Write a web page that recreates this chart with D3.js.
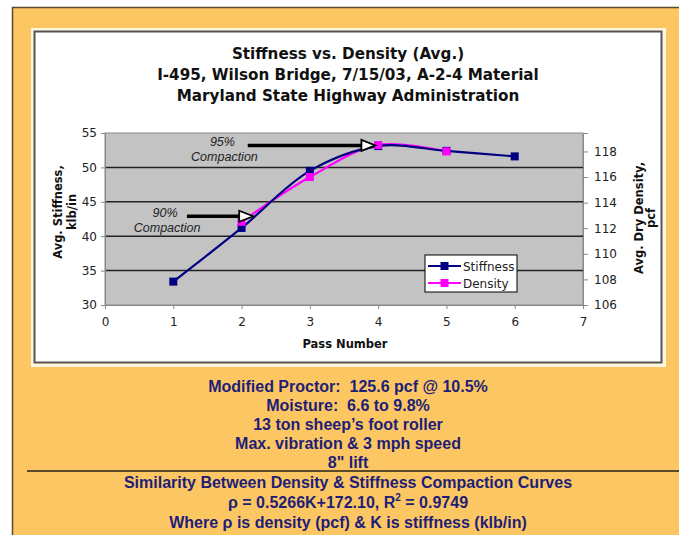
<!DOCTYPE html>
<html><head><meta charset="utf-8">
<script src="https://cdn.jsdelivr.net/npm/d3@7"></script>
<style>body{margin:0;background:#fff}svg{display:block}text{white-space:pre}</style>
</head><body>
<script>
const passes = [1, 2, 3, 4, 5, 6];
const stiffness = [33.4, 41.2, 49.5, 53.1, 52.4, 51.6];
const densityPasses = [2, 3, 4, 5];
const density = [112.5, 116.0, 118.5, 118.0];
const xTicks = [0, 1, 2, 3, 4, 5, 6, 7];
const yLeftTicks = [30, 35, 40, 45, 50, 55];
const yRightTicks = [106, 108, 110, 112, 114, 116, 118];
const titleLines = ["Stiffness vs. Density (Avg.)", "I-495, Wilson Bridge, 7/15/03, A-2-4 Material", "Maryland State Highway Administration"];
const notesTop = ["Modified Proctor:  125.6 pcf @ 10.5%", "Moisture:  6.6 to 9.8%", "13 ton sheep\u2019s foot roller", "Max. vibration & 3 mph speed", "8\" lift"];
const notesBottom = ["Similarity Between Density & Stiffness Compaction Curves", "EQ", "Where \u03c1 is density (pcf) & K is stiffness (klb/in)"];
const annotations = [{label: "95%", x0: 2.09, x1: 3.96, y: 53.2, tx: 1.72}, {label: "90%", x0: 1.2, x1: 2.17, y: 42.9, tx: 0.88}];

const W = 679, H = 535;
const svg = d3.select("body").append("svg").attr("width", W).attr("height", H);

// orange panel
svg.append("rect").attr("x", 12).attr("y", 7).attr("width", W - 12).attr("height", H - 7).attr("fill", "#fcc763");
svg.append("path").attr("d", `M12.5,${H} V7.5 H${W}`).attr("fill", "none").attr("stroke", "#5c4a2c").attr("stroke-width", 1.5);
// inner white box with glow
svg.append("rect").attr("x", 31).attr("y", 28).attr("width", 635).attr("height", 339).attr("fill", "#fff6e0");
svg.append("rect").attr("x", 34.5).attr("y", 31.5).attr("width", 627).attr("height", 331).attr("fill", "#fff").attr("stroke", "#555").attr("stroke-width", 2);

// titles
svg.append("g").selectAll("text").data(titleLines).join("text")
  .attr("x", 348).attr("y", (d, i) => 59 + i * 21).attr("text-anchor", "middle")
  .attr("font-family", "DejaVu Sans").attr("font-weight", "bold").attr("font-size", 15.2).attr("fill", "#111").text(d => d);

const pL = 105, pR = 583, pT = 133, pB = 305;
const x = d3.scaleLinear().domain([0, 7]).range([pL, pR]);
const yL = d3.scaleLinear().domain([30, 55]).range([pB, pT]);
const yR = d3.scaleLinear().domain([106, 119.44]).range([pB, pT]);

svg.append("rect").attr("x", pL).attr("y", pT).attr("width", pR - pL).attr("height", pB - pT).attr("fill", "#c3c3c3").attr("stroke", "#8a8a8a").attr("stroke-width", 1);
svg.append("g").selectAll("line").data(yLeftTicks.slice(1, -1)).join("line")
  .attr("x1", pL).attr("x2", pR).attr("y1", d => yL(d)).attr("y2", d => yL(d)).attr("stroke", "#222").attr("stroke-width", 1.5);

const tickFont = g => g.selectAll("text").attr("font-family", "DejaVu Sans").attr("font-size", 12).attr("fill", "#222");
const axStyle = g => { g.select(".domain").attr("stroke", "#888"); g.selectAll(".tick line").attr("stroke", "#888"); };
svg.append("g").attr("transform", `translate(0,${pB})`).call(d3.axisBottom(x).tickValues(xTicks).tickFormat(d3.format("d")).tickSize(4).tickPadding(8)).call(tickFont).call(axStyle);
svg.append("g").attr("transform", `translate(${pL},0)`).call(d3.axisLeft(yL).tickValues(yLeftTicks).tickFormat(d3.format("d")).tickSize(4).tickPadding(4)).call(tickFont).call(axStyle);
svg.append("g").attr("transform", `translate(${pR},0)`).call(d3.axisRight(yR).tickValues(yRightTicks).tickFormat(d3.format("d")).tickSize(5).tickPadding(6)).call(tickFont).call(axStyle);

const axTitle = {"font-family": "DejaVu Sans", "font-weight": "bold", "font-size": 11.5, "fill": "#111"};
const at = (sel, o) => { for (const k in o) sel.attr(k, o[k]); return sel; };
at(svg.append("text"), axTitle).attr("x", 345).attr("y", 348).attr("text-anchor", "middle").text("Pass Number");
const lt = at(svg.append("text"), axTitle).attr("transform", "translate(62,212) rotate(-90)").attr("text-anchor", "middle");
lt.append("tspan").attr("x", 0).attr("dy", 0).text("Avg. Stiffness,");
lt.append("tspan").attr("x", 0).attr("dy", 14).text("klb/in");
const rt = at(svg.append("text"), axTitle).attr("transform", "translate(643,218) rotate(-90)").attr("text-anchor", "middle");
rt.append("tspan").attr("x", 0).attr("dy", 0).text("Avg. Dry Density,");
rt.append("tspan").attr("x", 0).attr("dy", 12).text("pcf");

// series
const curve = d3.curveCatmullRom.alpha(0.5);
const sData = passes.map((p, i) => [p, stiffness[i]]);
const dData = densityPasses.map((p, i) => [p, density[i]]);
svg.append("path").datum(dData).attr("fill", "none").attr("stroke", "#ff00ff").attr("stroke-width", 2.2)
  .attr("d", d3.line().x(d => x(d[0])).y(d => yR(d[1])).curve(curve));
svg.append("path").datum(sData).attr("fill", "none").attr("stroke", "#000080").attr("stroke-width", 2.2)
  .attr("d", d3.line().x(d => x(d[0])).y(d => yL(d[1])).curve(curve));
const ms = 8;
svg.append("g").selectAll("rect").data(sData).join("rect")
  .attr("x", d => x(d[0]) - ms / 2).attr("y", d => yL(d[1]) - ms / 2).attr("width", ms).attr("height", ms).attr("fill", "#000080");
svg.append("g").selectAll("rect").data(dData).join("rect")
  .attr("x", d => x(d[0]) - ms / 2).attr("y", d => yR(d[1]) - ms / 2).attr("width", ms).attr("height", ms).attr("fill", "#ff00ff");

// annotations
annotations.forEach(a => {
  const xt = x(a.x1), yy = yL(a.y);
  svg.append("line").attr("x1", x(a.x0)).attr("x2", xt - 12).attr("y1", yy).attr("y2", yy).attr("stroke", "#000").attr("stroke-width", 3.5);
  svg.append("path").attr("d", `M${xt - 14},${yy - 5.5} L${xt},${yy} L${xt - 14},${yy + 5.5} Z`).attr("fill", "#fff").attr("stroke", "#000").attr("stroke-width", 1.8);
  const t = svg.append("text").attr("font-family", "Liberation Sans").attr("font-style", "italic").attr("font-size", 12.5).attr("fill", "#222").attr("text-anchor", "middle");
  t.append("tspan").attr("x", x(a.tx)).attr("y", yy + 1).text(a.label);
  t.append("tspan").attr("x", x(a.tx) + 2).attr("y", yy + 16).text("Compaction");
});

// legend
const lg = svg.append("g").attr("transform", "translate(425,255)");
lg.append("rect").attr("width", 92).attr("height", 37).attr("fill", "#fff").attr("stroke", "#000").attr("stroke-width", 1);
[["Stiffness", "#000080"], ["Density", "#ff00ff"]].forEach((e, i) => {
  const yy = 11 + i * 17;
  lg.append("line").attr("x1", 3).attr("x2", 36).attr("y1", yy).attr("y2", yy).attr("stroke", e[1]).attr("stroke-width", 2.2);
  lg.append("rect").attr("x", 15.5).attr("y", yy - 4).attr("width", 8).attr("height", 8).attr("fill", e[1]);
  lg.append("text").attr("x", 38).attr("y", yy + 4.5).attr("font-family", "DejaVu Sans").attr("font-size", 12).attr("fill", "#222").text(e[0]);
});

// notes
const noteStyle = {"font-family": "Liberation Sans", "font-weight": "bold", "font-size": 16, "fill": "#1e1e78", "text-anchor": "middle"};
notesTop.forEach((s, i) => at(svg.append("text"), noteStyle).attr("x", 348).attr("y", 392 + i * 19).text(s));
svg.append("line").attr("x1", 27).attr("x2", W).attr("y1", 471).attr("y2", 471).attr("stroke", "#5c4a2c").attr("stroke-width", 2);
notesBottom.forEach((s, i) => {
  const t = at(svg.append("text"), noteStyle).attr("x", 348).attr("y", 488 + i * 20);
  if (s === "EQ") {
    t.append("tspan").text("\u03c1 = 0.5266K+172.10, R");
    t.append("tspan").attr("font-size", 10).attr("dy", -7).text("2");
    t.append("tspan").attr("dy", 7).text(" = 0.9749");
  } else t.text(s);
});
</script>
</body></html>
